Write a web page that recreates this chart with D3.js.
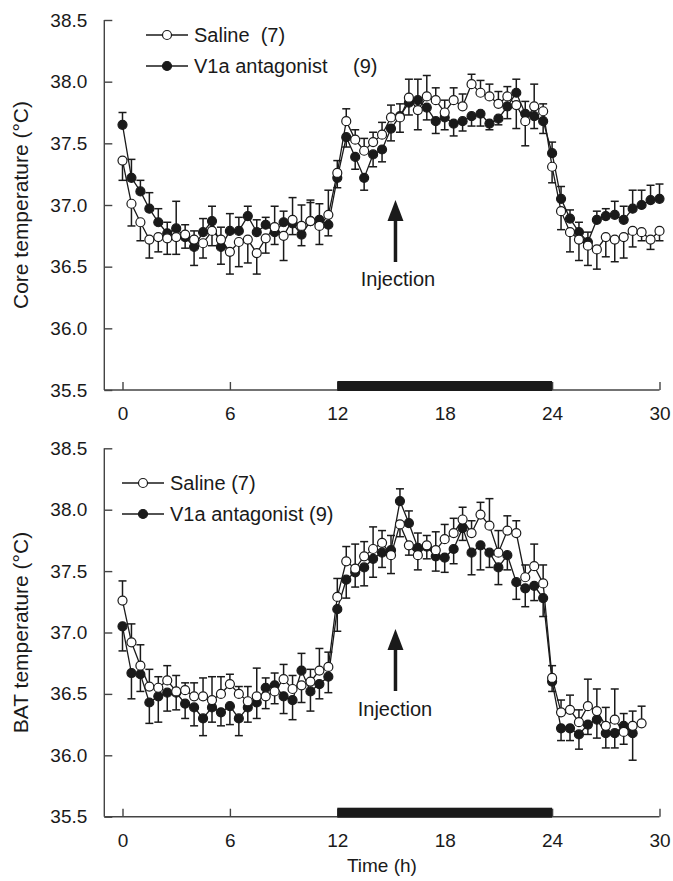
<!DOCTYPE html>
<html>
<head>
<meta charset="utf-8">
<script src="https://cdn.jsdelivr.net/npm/d3@7"></script>
<style>
  body { margin: 0; background: #fff; }
  svg { font-family: "Liberation Sans", Arial, sans-serif; }
</style>
</head>
<body>
<div id="chart"></div>
<script>
// time axis, h (one sample every 30 min)
const xTicks = [0, 6, 12, 18, 24, 30]
const yTicks = [35.5, 36.0, 36.5, 37.0, 37.5, 38.0, 38.5]
const darkPhase = [12, 24]
const injectionTime = 15.25

// core temperature
const coreSaline = [
  37.36, 37.01, 36.86, 36.72, 36.74, 36.73, 36.74, 36.76, 36.72, 36.69, 36.79, 36.72,
  36.62, 36.70, 36.72, 36.61, 36.73, 36.82, 36.75, 36.88, 36.83, 36.87, 36.83, 36.92,
  37.26, 37.68, 37.53, 37.44, 37.51, 37.57, 37.71, 37.71, 37.87, 37.77, 37.88, 37.85,
  37.75, 37.85, 37.80, 37.98, 37.91, 37.88, 37.82, 37.88, 37.81, 37.68, 37.80, 37.76,
  37.31, 36.95, 36.78, 36.72, 36.67, 36.64, 36.74, 36.72, 36.74, 36.79, 36.78, 36.72, 36.79
]
const coreSalineSem = [
  0.16, 0.18, 0.15, 0.15, 0.12, 0.13, 0.14, 0.08, 0.07, 0.12, 0.12, 0.10,
  0.18, 0.20, 0.19, 0.17, 0.12, 0.17, 0.20, 0.18, 0.17, 0.15, 0.15, 0.20,
  0.10, 0.10, 0.08, 0.10, 0.08, 0.10, 0.10, 0.12, 0.15, 0.16, 0.17, 0.10,
  0.10, 0.10, 0.10, 0.08, 0.10, 0.10, 0.10, 0.08, 0.19, 0.20, 0.18, 0.06,
  0.13, 0.15, 0.16, 0.17, 0.16, 0.16, 0.16, 0.18, 0.17, 0.13, 0.07, 0.08, 0.08
]
const coreV1a = [
  37.65, 37.22, 37.11, 36.97, 36.86, 36.77, 36.81, 36.74, 36.66, 36.78, 36.87, 36.66,
  36.79, 36.79, 36.91, 36.78, 36.84, 36.78, 36.86, 36.85, 36.76, 36.87, 36.88, 36.84,
  37.22, 37.55, 37.39, 37.22, 37.41, 37.45, 37.62, 37.72, 37.83, 37.85, 37.79, 37.68,
  37.71, 37.66, 37.68, 37.72, 37.74, 37.66, 37.70, 37.80, 37.91, 37.74, 37.72, 37.68,
  37.42, 37.05, 36.89, 36.78, 36.70, 36.88, 36.91, 36.92, 36.88, 36.97, 37.00, 37.04, 37.05
]
const coreV1aSem = [
  0.10, 0.15, 0.09, 0.13, 0.11, 0.09, 0.22, 0.09, 0.15, 0.11, 0.12, 0.14,
  0.14, 0.11, 0.08, 0.10, 0.06, 0.10, 0.09, 0.09, 0.09, 0.17, 0.13, 0.09,
  0.08, 0.08, 0.10, 0.10, 0.10, 0.10, 0.10, 0.10, 0.10, 0.17, 0.10, 0.10,
  0.10, 0.10, 0.08, 0.08, 0.10, 0.05, 0.05, 0.10, 0.11, 0.10, 0.10, 0.10,
  0.09, 0.10, 0.07, 0.08, 0.08, 0.07, 0.06, 0.11, 0.11, 0.15, 0.12, 0.12, 0.12
]

// BAT temperature
const batSaline = [
  37.26, 36.92, 36.73, 36.56, 36.55, 36.61, 36.52, 36.53, 36.48, 36.48, 36.45, 36.50,
  36.58, 36.50, 36.44, 36.48, 36.48, 36.52, 36.62, 36.54, 36.57, 36.60, 36.69, 36.72,
  37.29, 37.58, 37.52, 37.62, 37.68, 37.73, 37.63, 37.88, 37.71, 37.63, 37.71, 37.67,
  37.76, 37.81, 37.92, 37.81, 37.96, 37.87, 37.65, 37.83, 37.81, 37.45, 37.54, 37.40,
  36.63, 36.35, 36.37, 36.27, 36.40, 36.36, 36.24, 36.29, 36.19, 36.24, 36.26
]
const batSalineSem = [
  0.16, 0.15, 0.17, 0.14, 0.09, 0.12, 0.13, 0.06, 0.11, 0.15, 0.19, 0.14,
  0.08, 0.06, 0.12, 0.23, 0.10, 0.10, 0.12, 0.11, 0.14, 0.10, 0.18, 0.12,
  0.15, 0.12, 0.20, 0.12, 0.18, 0.10, 0.15, 0.10, 0.08, 0.12, 0.08, 0.15,
  0.12, 0.12, 0.10, 0.10, 0.10, 0.22, 0.18, 0.12, 0.10, 0.10, 0.18, 0.15,
  0.10, 0.10, 0.12, 0.10, 0.22, 0.18, 0.15, 0.25, 0.10, 0.12, 0.14
]
const batV1a = [
  37.05, 36.67, 36.66, 36.43, 36.48, 36.51, 36.51, 36.42, 36.39, 36.30, 36.39, 36.35,
  36.40, 36.30, 36.39, 36.43, 36.55, 36.57, 36.48, 36.45, 36.69, 36.52, 36.58, 36.64,
  37.19, 37.43, 37.49, 37.53, 37.60, 37.65, 37.67, 38.07, 37.89, 37.69, 37.70, 37.62,
  37.61, 37.68, 37.85, 37.65, 37.71, 37.65, 37.53, 37.63, 37.41, 37.36, 37.38, 37.28,
  36.60, 36.22, 36.22, 36.17, 36.25, 36.29, 36.18, 36.18, 36.24, 36.18
]
const batV1aSem = [
  0.20, 0.21, 0.14, 0.17, 0.21, 0.15, 0.14, 0.12, 0.15, 0.14, 0.12, 0.11,
  0.15, 0.14, 0.12, 0.13, 0.08, 0.10, 0.14, 0.16, 0.14, 0.16, 0.12, 0.13,
  0.18, 0.15, 0.12, 0.15, 0.15, 0.12, 0.12, 0.10, 0.10, 0.12, 0.10, 0.12,
  0.12, 0.12, 0.10, 0.18, 0.20, 0.12, 0.14, 0.12, 0.14, 0.15, 0.12, 0.15,
  0.08, 0.10, 0.10, 0.12, 0.08, 0.15, 0.12, 0.12, 0.10, 0.22
]

const width = 673
const height = 881
const ink = '#1a1a1a'
const axisInk = '#444'

const svg = d3.select('#chart').append('svg')
  .attr('width', width)
  .attr('height', height)

const x = d3.scaleLinear().domain([0, 30]).range([122.5, 659.5])

const panels = [
  {
    top: 20, bottom: 390,
    title: 'Core temperature (\u00b0C)',
    saline: coreSaline, salineSem: coreSalineSem,
    v1a: coreV1a, v1aSem: coreV1aSem,
    legend: ['Saline  (7)', 'V1a antagonist', '(9)'],
    legendX: 146, legendY: 35,
    arrowTip: 200, textY: 286, textX: 398
  },
  {
    top: 448.3, bottom: 816.7,
    title: 'BAT temperature (\u00b0C)',
    saline: batSaline, salineSem: batSalineSem,
    v1a: batV1a, v1aSem: batV1aSem,
    legend: ['Saline (7)', 'V1a antagonist (9)', ''],
    legendX: 122, legendY: 483,
    arrowTip: 629, textY: 716, textX: 395
  }
]

panels.forEach((p, pi) => {
  const y = d3.scaleLinear().domain([35.5, 38.5]).range([p.bottom, p.top])
  const g = svg.append('g')

  // axes
  const xAxis = d3.axisBottom(x).tickValues(xTicks).tickSize(-8).tickPadding(17)
  const yAxis = d3.axisLeft(y).tickValues(yTicks).tickSize(-8).tickPadding(17)
    .tickFormat(d3.format('.1f'))

  const gx = g.append('g').attr('transform', `translate(0,${p.bottom})`).call(xAxis)
  gx.select('.domain').remove()
  gx.append('line')
    .attr('x1', 104.3).attr('x2', x(30))
    .attr('stroke', axisInk).attr('stroke-width', 1.4)

  const gy = g.append('g').attr('transform', 'translate(104.3,0)').call(yAxis)
  gy.select('.domain').remove()
  gy.append('line')
    .attr('y1', p.top).attr('y2', p.bottom)
    .attr('stroke', axisInk).attr('stroke-width', 1.4)

  g.selectAll('.tick line').attr('stroke', axisInk).attr('stroke-width', 1.4)
  g.selectAll('.tick text')
    .attr('fill', ink)
    .style('font-size', '19px')
  gx.selectAll('.tick text').attr('dy', '0.71em')

  // dark phase bar
  g.append('rect')
    .attr('x', x(darkPhase[0]))
    .attr('width', x(darkPhase[1]) - x(darkPhase[0]))
    .attr('y', p.bottom - 9)
    .attr('height', 10)
    .attr('fill', ink)

  // y title
  g.append('text')
    .attr('transform', `translate(28,${(p.top + p.bottom) / 2}) rotate(-90)`)
    .attr('text-anchor', 'middle')
    .attr('fill', ink)
    .style('font-size', '21px')
    .text(p.title)

  const series = [
    { vals: p.v1a, sem: p.v1aSem, other: p.saline, fill: ink },
    { vals: p.saline, sem: p.salineSem, other: p.v1a, fill: '#fff' }
  ]

  // error bars: drawn away from the other group
  series.forEach(s => {
    const pts = s.vals.map((v, i) => {
      const o = s.other[i] === undefined ? s.other[s.other.length - 1] : s.other[i]
      const dir = v >= o ? 1 : -1
      return { t: i * 0.5, v: v, e: v + dir * s.sem[i] }
    })
    const eb = g.append('g').attr('stroke', ink).attr('stroke-width', 1.5)
    eb.selectAll('line.bar').data(pts).enter().append('line')
      .attr('x1', d => x(d.t)).attr('x2', d => x(d.t))
      .attr('y1', d => y(d.v)).attr('y2', d => y(d.e))
    eb.selectAll('line.cap').data(pts).enter().append('line')
      .attr('x1', d => x(d.t) - 4).attr('x2', d => x(d.t) + 4)
      .attr('y1', d => y(d.e)).attr('y2', d => y(d.e))
  })

  const line = d3.line().x((d, i) => x(i * 0.5)).y(d => y(d))
  series.forEach(s => {
    g.append('path')
      .datum(s.vals)
      .attr('d', line)
      .attr('fill', 'none')
      .attr('stroke', ink)
      .attr('stroke-width', 1.3)
  })
  series.forEach(s => {
    g.append('g').selectAll('circle').data(s.vals).enter().append('circle')
      .attr('cx', (d, i) => x(i * 0.5))
      .attr('cy', d => y(d))
      .attr('r', 4.5)
      .attr('fill', s.fill)
      .attr('stroke', ink)
      .attr('stroke-width', 1.2)
  })

  // legend
  const lg = g.append('g')
  const rows = [
    { fill: '#fff', label: p.legend[0], extra: '' },
    { fill: ink, label: p.legend[1], extra: p.legend[2] }
  ]
  rows.forEach((r, i) => {
    const ly = p.legendY + i * 31
    lg.append('line')
      .attr('x1', p.legendX).attr('x2', p.legendX + 42)
      .attr('y1', ly).attr('y2', ly)
      .attr('stroke', ink).attr('stroke-width', 1.3)
    lg.append('circle')
      .attr('cx', p.legendX + 21).attr('cy', ly).attr('r', 4.5)
      .attr('fill', r.fill).attr('stroke', ink).attr('stroke-width', 1.2)
    lg.append('text')
      .attr('x', p.legendX + 48).attr('y', ly).attr('dy', '0.35em')
      .attr('fill', ink).style('font-size', '20px')
      .style('white-space', 'pre')
      .text(r.label)
    if (r.extra) {
      lg.append('text')
        .attr('x', 353).attr('y', ly).attr('dy', '0.35em')
        .attr('fill', ink).style('font-size', '20px')
        .text(r.extra)
    }
  })

  // injection arrow
  const ax = x(injectionTime)
  g.append('line')
    .attr('x1', ax).attr('x2', ax)
    .attr('y1', p.arrowTip + 18).attr('y2', p.arrowTip + 62)
    .attr('stroke', ink).attr('stroke-width', 3.5)
  g.append('path')
    .attr('d', `M${ax},${p.arrowTip} L${ax - 8},${p.arrowTip + 21} L${ax + 8},${p.arrowTip + 21} Z`)
    .attr('fill', ink)
  g.append('text')
    .attr('x', p.textX).attr('y', p.textY)
    .attr('text-anchor', 'middle')
    .attr('fill', ink).style('font-size', '20px')
    .text('Injection')
})

svg.append('text')
  .attr('x', (104.3 + x(30)) / 2).attr('y', 872)
  .attr('text-anchor', 'middle')
  .attr('fill', ink).style('font-size', '19px')
  .text('Time (h)')
</script>
</body>
</html>
